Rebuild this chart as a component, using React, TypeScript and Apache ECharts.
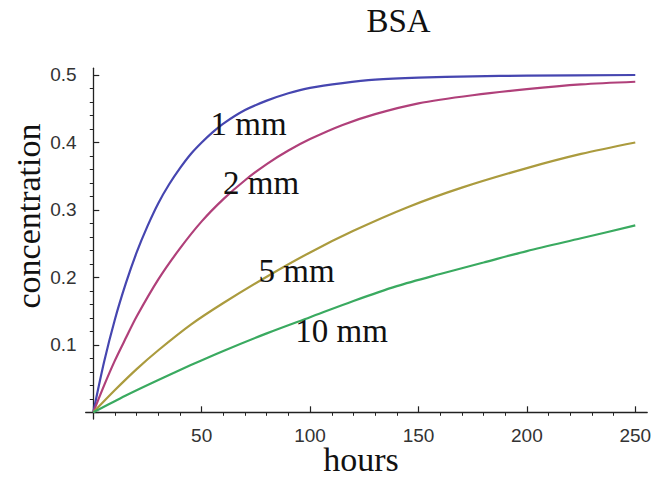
import React, { useEffect, useRef } from "react";
import * as echarts from "echarts";

const titleText = "BSA";
const xName = "hours";
const yName = "concentration";
const seriesNames = ["1 mm", "2 mm", "5 mm", "10 mm"];
const seriesColors = ["#4646b0", "#b0407a", "#ab9b3e", "#3aaa60"];

const hours1 = [0, 5, 10, 15, 20, 25, 30, 35, 40, 45, 50, 55, 60, 70, 80, 90, 100, 115, 130, 150, 175, 200, 250];
const conc1 = [0, 0.075, 0.138, 0.191, 0.237, 0.276, 0.31, 0.338, 0.362, 0.383, 0.4, 0.415, 0.428, 0.448, 0.462, 0.473, 0.481, 0.488, 0.493, 0.496, 0.498, 0.499, 0.5];

const hours2 = [0, 5, 10, 15, 20, 30, 40, 50, 60, 70, 80, 90, 100, 115, 130, 150, 175, 200, 225, 250];
const conc2 = [0, 0.04, 0.077, 0.11, 0.142, 0.197, 0.243, 0.283, 0.316, 0.344, 0.368, 0.388, 0.405, 0.426, 0.442, 0.458, 0.47, 0.479, 0.486, 0.49];

const hours5 = [0, 10, 20, 30, 45, 60, 80, 100, 120, 145, 170, 200, 225, 250];
const conc5 = [0, 0.033, 0.064, 0.092, 0.13, 0.162, 0.201, 0.237, 0.269, 0.304, 0.333, 0.362, 0.383, 0.4];

const hours10 = [0, 15, 30, 45, 60, 80, 100, 120, 140, 160, 180, 200, 225, 250];
const conc10 = [0, 0.025, 0.048, 0.07, 0.091, 0.117, 0.141, 0.165, 0.187, 0.205, 0.222, 0.239, 0.258, 0.277];

// annotation anchor positions (data coordinates) for each curve's label
const labelHours = [71.6, 77.4, 93.8, 114.5];
const labelConc = [0.427, 0.34, 0.209, 0.12];

const xTickLabels = [50, 100, 150, 200, 250];
const xMajorTicks = [0, 50, 100, 150, 200, 250];
const xMinorTicks = [10, 20, 30, 40, 60, 70, 80, 90, 110, 120, 130, 140, 160, 170, 180, 190, 210, 220, 230, 240];
const yTickLabels = [0.1, 0.2, 0.3, 0.4, 0.5];
const yMajorTicks = [0, 0.1, 0.2, 0.3, 0.4, 0.5];
const yMinorTicks = [0.02, 0.04, 0.06, 0.08, 0.12, 0.14, 0.16, 0.18, 0.22, 0.24, 0.26, 0.28, 0.32, 0.34, 0.36, 0.38, 0.42, 0.44, 0.46, 0.48];

const X_MIN = -3.5;
const X_MAX = 255.5;
const Y_MIN = -0.01;
const Y_MAX = 0.51;

const serif = "'Liberation Serif', 'Times New Roman', serif";
const sans = "'Liberation Sans', Arial, sans-serif";
const axisColor = "#222";
const textColor = "#111";

const hoursList = [hours1, hours2, hours5, hours10];
const concList = [conc1, conc2, conc5, conc10];

export default function App() {
  const ref = useRef<HTMLDivElement>(null);
  useEffect(() => {
    const chart = echarts.init(ref.current!, null, { renderer: "svg" });
    const series = seriesNames.map((name, i) => ({
      name,
      type: "line",
      xAxisIndex: 0,
      yAxisIndex: 0,
      data: hoursList[i].map((h, j) => [h, concList[i][j]]),
      showSymbol: false,
      smooth: 0.3,
      lineStyle: { color: seriesColors[i], width: 2.2 },
      itemStyle: { color: seriesColors[i] },
      z: 2,
    }));
    const minorAxisLine = { show: true, lineStyle: { color: "rgba(0,0,0,0)", width: 0 } };
    chart.setOption({
      animation: false,
      backgroundColor: "#fff",
      grid: { left: 85.7, right: 15.8, top: 68.25, bottom: 60.95, containLabel: false },
      xAxis: [
        {
          type: "value",
          min: X_MIN,
          max: X_MAX,
          axisLine: { show: true, onZero: true, onZeroAxisIndex: 0, lineStyle: { color: axisColor, width: 1.3 } },
          axisTick: { show: true, inside: true, length: 6, customValues: xMajorTicks, lineStyle: { color: axisColor, width: 1.2 } },
          axisLabel: { customValues: xTickLabels, margin: 7, fontFamily: sans, fontSize: 19, color: "#333" },
          splitLine: { show: false },
        },
        {
          type: "value",
          min: X_MIN,
          max: X_MAX,
          axisLine: { ...minorAxisLine, onZero: true, onZeroAxisIndex: 1 },
          axisTick: { show: true, inside: true, length: 3.5, customValues: xMinorTicks, lineStyle: { color: axisColor, width: 1 } },
          axisLabel: { show: false },
          splitLine: { show: false },
        },
      ],
      yAxis: [
        {
          type: "value",
          min: Y_MIN,
          max: Y_MAX,
          axisLine: { show: true, onZero: true, onZeroAxisIndex: 0, lineStyle: { color: axisColor, width: 1.3 } },
          axisTick: { show: true, inside: true, length: 6, customValues: yMajorTicks, lineStyle: { color: axisColor, width: 1.2 } },
          axisLabel: { customValues: yTickLabels, margin: 9, fontFamily: sans, fontSize: 19, color: "#333" },
          splitLine: { show: false },
        },
        {
          type: "value",
          min: Y_MIN,
          max: Y_MAX,
          axisLine: { ...minorAxisLine, onZero: true, onZeroAxisIndex: 1 },
          axisTick: { show: true, inside: true, length: 3.5, customValues: yMinorTicks, lineStyle: { color: axisColor, width: 1 } },
          axisLabel: { show: false },
          splitLine: { show: false },
        },
      ],
      series,
    });

    const curveLabels = seriesNames.map((name, i) => {
      const p = chart.convertToPixel({ xAxisIndex: 0, yAxisIndex: 0 }, [labelHours[i], labelConc[i]]) as number[];
      return {
        type: "text",
        x: p[0],
        y: p[1],
        z: 10,
        style: {
          text: name,
          font: `33px ${serif}`,
          fill: textColor,
          textAlign: "center",
          textVerticalAlign: "middle",
        },
      };
    });

    chart.setOption({
      graphic: [
        {
          type: "text",
          x: 398.5,
          y: 21,
          style: { text: titleText, font: `33px ${serif}`, fill: textColor, textAlign: "center", textVerticalAlign: "middle" },
        },
        {
          type: "text",
          x: 361,
          y: 459,
          style: { text: xName, font: `34px ${serif}`, fill: textColor, textAlign: "center", textVerticalAlign: "middle" },
        },
        {
          type: "text",
          x: 28,
          y: 216,
          rotation: Math.PI / 2,
          style: { text: yName, font: `34px ${serif}`, fill: textColor, textAlign: "center", textVerticalAlign: "middle" },
        },
        ...curveLabels,
      ],
    });
    return () => chart.dispose();
  }, []);
  return (
    <div
      ref={ref}
      style={{ position: "fixed", left: 0, top: 0, width: 663, height: 480, background: "#fff" }}
    />
  );
}
